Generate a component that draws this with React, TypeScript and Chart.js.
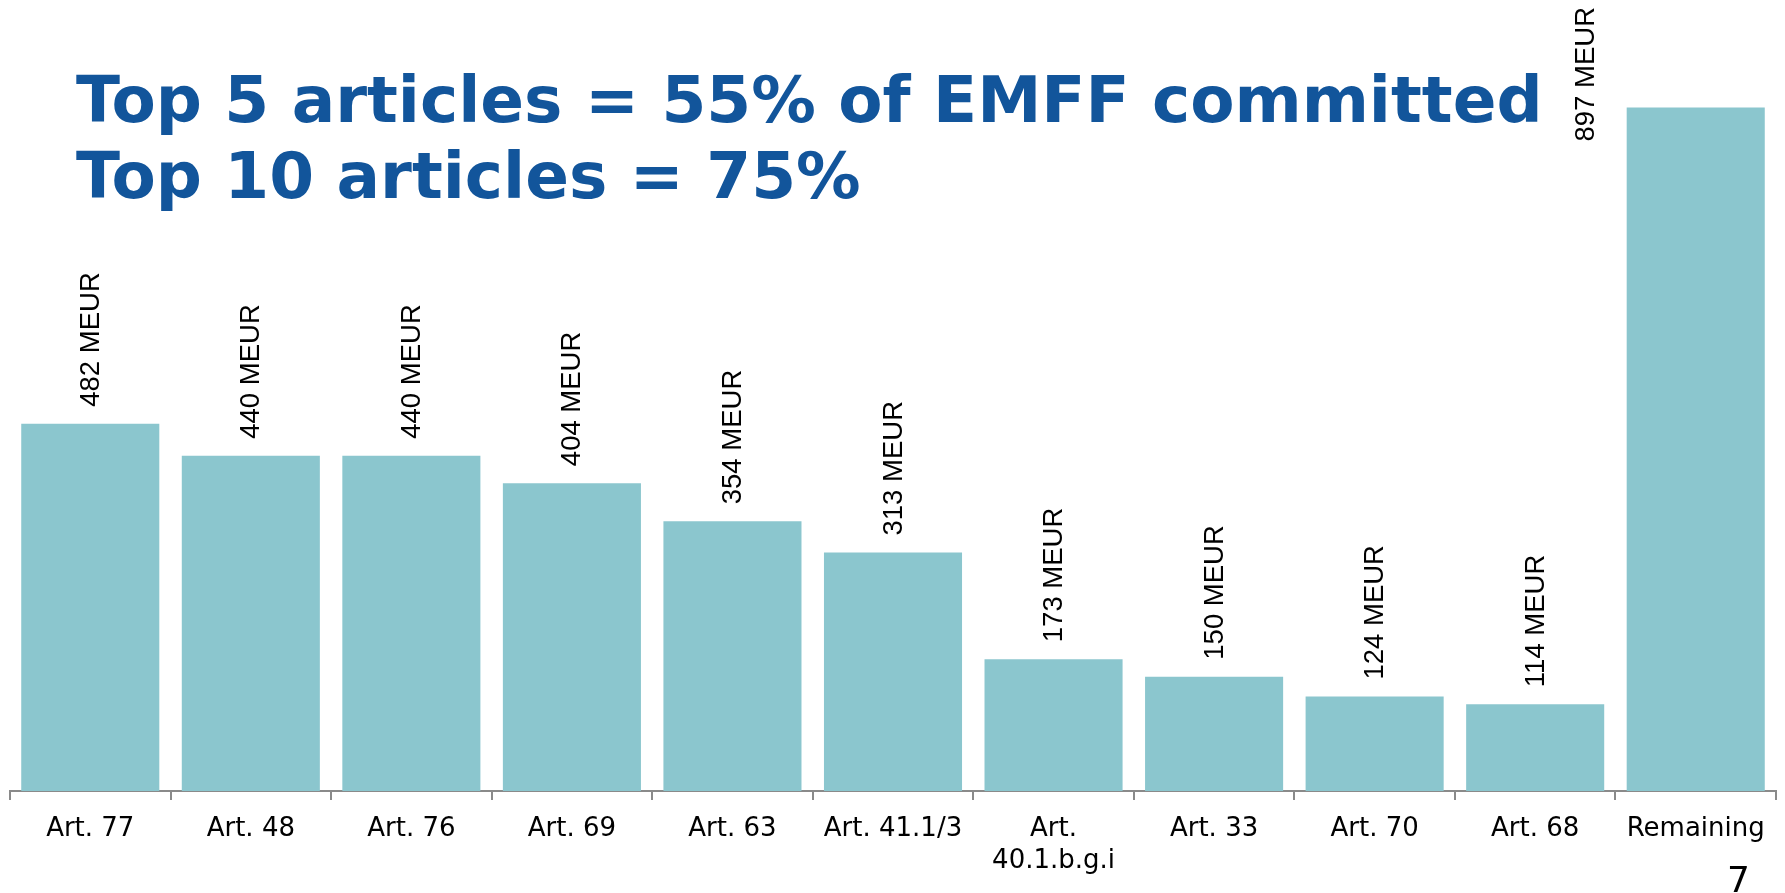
import React, { useEffect, useRef } from "react";
import { Chart, registerables } from "chart.js";

Chart.register(...registerables);

const categories: (string | string[])[] = [
  "Art. 77",
  "Art. 48",
  "Art. 76",
  "Art. 69",
  "Art. 63",
  "Art. 41.1/3",
  ["Art.", "40.1.b.g.i"],
  "Art. 33",
  "Art. 70",
  "Art. 68",
  "Remaining",
];
const values: number[] = [482, 440, 440, 404, 354, 313, 173, 150, 124, 114, 897];
const valueUnit = "MEUR";
const titleLines: string[] = ["Top 5 articles = 55% of EMFF committed", "Top 10 articles = 75%"];
const pageNumber = "7";

const BAR_COLOR = "rgb(139,198,206)";
const AXIS_COLOR = "#8a8a8a";

const valueLabelPlugin = {
  id: "valueLabels",
  afterDatasetsDraw(chart: any) {
    const ctx = chart.ctx;
    const meta = chart.getDatasetMeta(0);
    ctx.save();
    ctx.font = "27.5px 'Liberation Sans', Arial, sans-serif";
    ctx.fillStyle = "#000";
    ctx.textBaseline = "middle";
    ctx.textAlign = "left";
    meta.data.forEach((bar: any, i: number) => {
      const text = `${values[i]} ${valueUnit}`;
      const w = ctx.measureText(text).width;
      let x = bar.x + 1;
      let y = bar.y - 17;
      if (y - w < 4) {
        x = bar.x - bar.width / 2 - 40;
        y = 7 + w;
      }
      ctx.save();
      ctx.translate(x, y);
      ctx.rotate(-Math.PI / 2);
      ctx.fillText(text, 0, 0);
      ctx.restore();
    });
    ctx.restore();
  },
};

export default function App() {
  const canvasRef = useRef<HTMLCanvasElement | null>(null);

  useEffect(() => {
    document.body.style.margin = "0";
    const canvas = canvasRef.current;
    if (!canvas) return;
    const chart = new Chart(canvas, {
      type: "bar",
      data: {
        labels: categories as any,
        datasets: [
          {
            data: values,
            backgroundColor: BAR_COLOR,
            borderWidth: 0,
            barPercentage: 0.86,
            categoryPercentage: 1,
          },
        ],
      },
      options: {
        responsive: false,
        animation: false,
        devicePixelRatio: 1,
        layout: { padding: { left: 10, right: 9, top: 29, bottom: 0 } },
        plugins: {
          legend: { display: false },
          tooltip: { enabled: false },
          title: { display: false },
        },
        scales: {
          x: {
            grid: {
              display: true,
              drawOnChartArea: false,
              drawTicks: true,
              tickLength: 9,
              color: AXIS_COLOR,
              lineWidth: 2,
              offset: true,
            },
            border: { display: true, color: AXIS_COLOR, width: 2 },
            ticks: {
              color: "#000",
              font: { family: "'DejaVu Sans', Verdana, sans-serif", size: 26, lineHeight: 1.2 },
              padding: 14,
              maxRotation: 0,
              minRotation: 0,
              autoSkip: false,
            },
            afterFit: (scale: any) => {
              scale.height = 102;
            },
          },
          y: {
            display: false,
            min: 0,
            max: 1000,
          },
        },
      },
      plugins: [valueLabelPlugin],
    });
    return () => chart.destroy();
  }, []);

  return (
    <div
      style={{
        position: "fixed",
        left: 0,
        top: 0,
        width: 1785,
        height: 893,
        overflow: "hidden",
        background: "#fff",
      }}
    >
      <canvas ref={canvasRef} width={1785} height={893} style={{ position: "absolute", left: 0, top: 0 }} />
      <div
        style={{
          position: "absolute",
          left: 76,
          top: 62,
          fontFamily: "'DejaVu Sans', Verdana, sans-serif",
          fontWeight: "bold",
          fontSize: 64.5,
          lineHeight: "76px",
          color: "#12559B",
          whiteSpace: "nowrap",
        }}
      >
        {titleLines.map((t, i) => (
          <div key={i}>{t}</div>
        ))}
      </div>
      <div
        style={{
          position: "absolute",
          left: 1727,
          top: 862,
          fontFamily: "'DejaVu Sans', Verdana, sans-serif",
          fontSize: 36,
          lineHeight: "36px",
          color: "#000",
        }}
      >
        {pageNumber}
      </div>
    </div>
  );
}
